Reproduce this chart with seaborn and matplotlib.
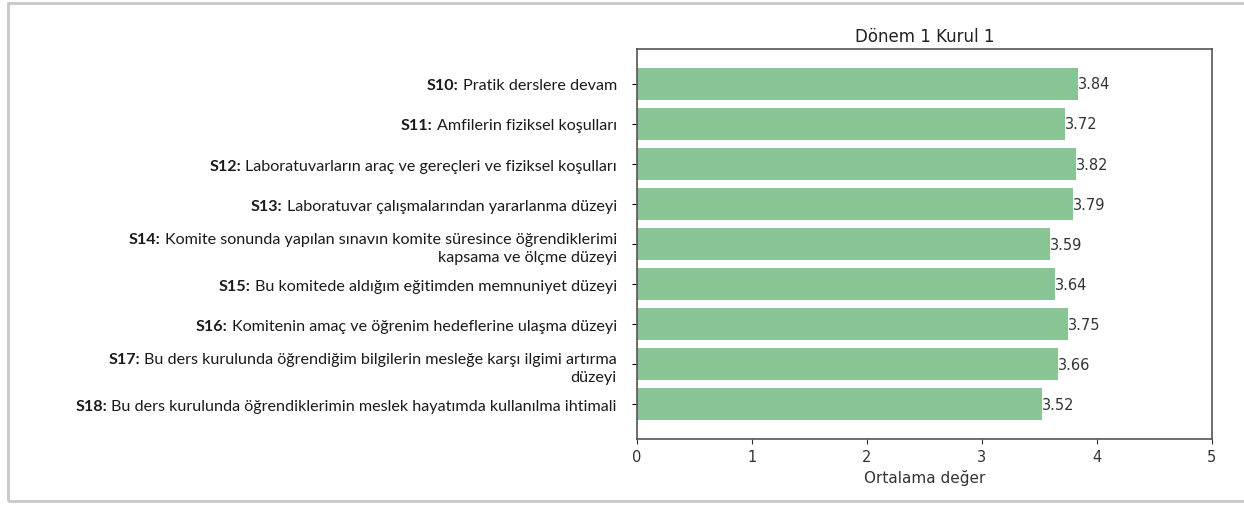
import matplotlib
matplotlib.use("Agg")
import matplotlib.pyplot as plt
import seaborn as sns
from matplotlib.patches import Rectangle

# ── data ────────────────────────────────────────────────────────────────────
codes = ["S10", "S11", "S12", "S13", "S14", "S15", "S16", "S17", "S18"]
questions = [
    "Pratik derslere devam",
    "Amfilerin fiziksel koşulları",
    "Laboratuvarların araç ve gereçleri ve fiziksel koşulları",
    "Laboratuvar çalışmalarından yararlanma düzeyi",
    "Komite sonunda yapılan sınavın komite süresince öğrendiklerimi\nkapsama ve ölçme düzeyi",
    "Bu komitede aldığım eğitimden memnuniyet düzeyi",
    "Komitenin amaç ve öğrenim hedeflerine ulaşma düzeyi",
    "Bu ders kurulunda öğrendiğim bilgilerin mesleğe karşı ilgimi artırma\ndüzeyi",
    "Bu ders kurulunda öğrendiklerimin meslek hayatımda kullanılma ihtimali",
]
values = [3.84, 3.72, 3.82, 3.79, 3.59, 3.64, 3.75, 3.66, 3.52]
title = "Dönem 1 Kurul 1"
xlabel = "Ortalama değer"

BAR = "#88c494"
LABEL_FONT = "Lato"
LABEL_SIZE = 11.6

fig = plt.figure(figsize=(12.44, 5.06), dpi=100, facecolor="white")
ax = fig.add_axes([0.512, 0.130, 0.462, 0.771])

sns.barplot(x=values, y=questions, color=BAR, width=0.8, orient="h",
            saturation=1, ax=ax)

for i, v in enumerate(values):
    ax.text(v, i, f"{v:.2f}", ha="left", va="center", fontsize=10.5,
            color="#333333")

ax.set_xlim(0, 5)
ax.set_ylim(8.87, -0.87)
ax.set_title(title, fontsize=12, color="#222222", pad=6)
ax.set_xlabel(xlabel, fontsize=11, color="#333333")
ax.set_ylabel("")
ax.tick_params(axis="x", labelsize=10.5, colors="#333333")
ax.tick_params(axis="y", labelsize=LABEL_SIZE, pad=11)
for t in ax.get_yticklabels():
    t.set_family(LABEL_FONT)
    t.set_color("#1a1a1a")
    t.set_linespacing(1.35)
for s in ax.spines.values():
    s.set_color("#555555")
    s.set_linewidth(1.2)

# bold "Sxx:" prefix placed left of the first line of each tick label
fig.canvas.draw()
renderer = fig.canvas.get_renderer()
inv = fig.transFigure.inverted()
for code, t in zip(codes, ax.get_yticklabels()):
    bb = t.get_window_extent(renderer)
    x0, y1 = inv.transform((bb.x0 - 4, bb.y1))
    fig.text(x0, y1, f"{code}:", ha="right", va="top", family=LABEL_FONT,
             fontsize=LABEL_SIZE, fontweight="bold", color="#1a1a1a")

# screenshot-style frame
fig.patches.append(Rectangle((0.0065, 0.008), 1.2, 0.985, transform=fig.transFigure,
                             fill=False, edgecolor="#c8c8c8", linewidth=2.0))

fig.savefig("out.png", dpi=100)
